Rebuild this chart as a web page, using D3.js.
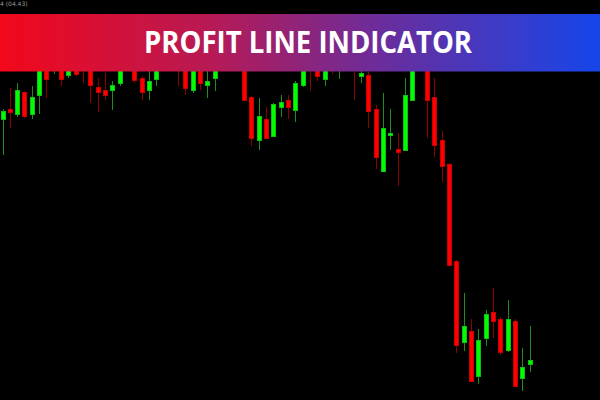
<!DOCTYPE html>
<html>
<head>
<meta charset="utf-8">
<script src="https://cdn.jsdelivr.net/npm/d3@7"></script>
<style>
  html, body { margin: 0; padding: 0; background: #000; }
  svg { display: block; }
</style>
</head>
<body>
<svg id="chart" width="600" height="400"></svg>
<script>
// Candle prices (open / high / low / close)
const opens  = [281, 290.7, 285.7, 307.3, 285.7, 304.3, 338, 330, 336, 324.3, 334, 345, 340, 312.3, 310, 309.3, 316.7, 338, 342, 321.7,
                309.3, 321, 344, 334, 348, 338, 309.3, 340, 314.3, 321.3, 338, 352, 340, 350, 302.3, 259.3, 281, 264, 292.7, 300,
                290, 314.3, 340, 338, 321, 338, 330, 336, 344, 323.7, 324.3, 290.7, 228.3, 264.3, 250.3, 250, 300, 342, 340, 302.3,
                260, 235.7, 138.3, 57.3, 69, 23.3, 61.3, 88, 81, 49.3, 78.3, 21.3, 35.3];
const highs  = [291, 312.3, 317.3, 309, 314.3, 345, 342, 338, 343, 348, 340, 352, 346, 321.7, 326.7, 319.3, 350, 356, 350, 324,
                338, 346, 352, 354, 354, 344, 346, 348, 336, 350, 360, 358, 362, 356, 304, 302.3, 292.7, 297, 305, 305,
                319, 344, 348, 344, 342, 344, 346, 352, 350, 334, 328.3, 295, 307.3, 290.7, 266.7, 321.7, 344, 350, 346, 321.7,
                269, 237, 140, 107.3, 81, 71, 90, 111.7, 83.3, 100, 80.7, 52.3, 74];
const lows   = [245, 271.7, 283.3, 282.5, 281, 285.7, 302.3, 326, 314, 321.7, 324, 316.7, 297.3, 288.3, 300, 290, 314.3, 334, 316.7, 300,
                300, 314.3, 332, 331, 314, 305, 307.3, 310, 302.3, 309.3, 332, 334, 336, 300, 254.3, 250, 261, 263, 283.3, 281,
                278.3, 313, 309.3, 319.3, 314.3, 326, 321, 331, 300, 316.7, 271.7, 231, 228, 250, 214, 249, 299, 330, 261.7, 242.7,
                218.3, 134, 47.3, 49.3, 18, 16, 54.3, 61.7, 45, 48.5, 13, 9.3, 28];
const closes = [288.3, 288, 310, 283.3, 302.3, 340, 321, 334, 321, 340, 326, 332, 314.3, 307.3, 304.3, 314.3, 342, 350, 319.3, 307.3,
                319, 340, 336, 348, 334, 311.7, 338, 316.7, 319, 342, 352, 340, 354, 300, 261.7, 283.3, 261.7, 295.7, 297.7, 292.7,
                316.7, 338, 332, 324, 336, 332, 340, 346, 334, 326.3, 288.3, 242.5, 271.7, 267, 247.7, 305, 338, 334, 300, 254.3,
                233.3, 135, 54.3, 74, 19, 59.7, 85.7, 78.3, 47.3, 81, 14, 33, 40];

const title = 'PROFIT LINE INDICATOR';
const corner = '4 (04.43)';

const candles = opens.map((o, i) => ({ i, o, h: highs[i], l: lows[i], c: closes[i] }));

const svg = d3.select('#chart');
const width = +svg.attr('width');
const height = +svg.attr('height');

svg.append('rect').attr('width', width).attr('height', height).attr('fill', '#000');

const x = d3.scaleLinear().domain([0, candles.length - 1]).range([2.5, 529.5]);
const y = d3.scaleLinear().domain([0, 400]).range([height, 0]);

const g = svg.append('g').attr('shape-rendering', 'crispEdges');

// wicks
g.selectAll('line.wick')
  .data(candles)
  .join('line')
  .attr('class', 'wick')
  .attr('x1', d => Math.round(x(d.i)) + 0.5)
  .attr('x2', d => Math.round(x(d.i)) + 0.5)
  .attr('y1', d => y(d.h))
  .attr('y2', d => y(d.l))
  .attr('stroke', d => d.c >= d.o ? '#1e8c1e' : '#8c0000')
  .attr('stroke-width', 1);

// bodies
g.selectAll('rect.body')
  .data(candles)
  .join('rect')
  .attr('class', 'body')
  .attr('x', d => Math.round(x(d.i)) - 1.5)
  .attr('width', 4)
  .attr('y', d => y(Math.max(d.o, d.c)))
  .attr('height', d => Math.max(1, Math.abs(y(d.o) - y(d.c))))
  .attr('fill', d => d.c >= d.o ? '#00ff00' : '#ff0000')
  .attr('stroke', d => d.c >= d.o ? '#10c010' : '#c80000')
  .attr('stroke-width', 1);

// corner label
svg.append('text')
  .attr('x', 0)
  .attr('y', 6)
  .attr('fill', '#9a9a9a')
  .attr('font-family', 'DejaVu Sans, sans-serif')
  .attr('font-size', 6)
  .text(corner);

// banner
const grad = svg.append('defs').append('linearGradient')
  .attr('id', 'banner')
  .attr('x1', '0%').attr('x2', '100%').attr('y1', '0%').attr('y2', '0%');
grad.append('stop').attr('offset', '0%').attr('stop-color', '#f2081a');
grad.append('stop').attr('offset', '35%').attr('stop-color', '#b71a55');
grad.append('stop').attr('offset', '62%').attr('stop-color', '#6e2c98');
grad.append('stop').attr('offset', '100%').attr('stop-color', '#1646ea');

svg.append('rect')
  .attr('x', 0)
  .attr('y', 14)
  .attr('width', width)
  .attr('height', 57.5)
  .attr('fill', 'url(#banner)');

svg.append('text')
  .attr('x', 308)
  .attr('y', 52.5)
  .attr('text-anchor', 'middle')
  .attr('fill', '#fff')
  .attr('font-family', '"Open Sans", sans-serif')
  .attr('font-weight', 700)
  .attr('font-size', 31)
  .attr('textLength', 328)
  .attr('lengthAdjust', 'spacingAndGlyphs')
  .text(title);
</script>
</body>
</html>
